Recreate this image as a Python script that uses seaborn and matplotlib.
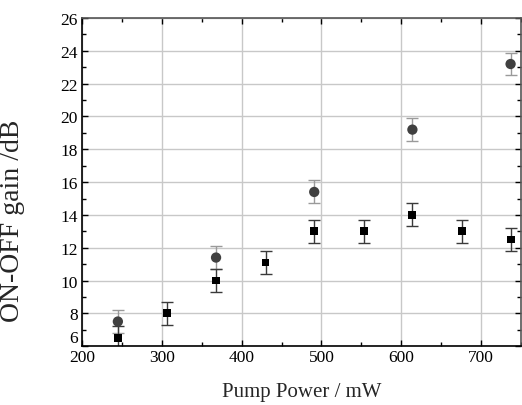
import numpy as np
import pandas as pd
import matplotlib
matplotlib.use("Agg")
import matplotlib.pyplot as plt
import seaborn as sns
from matplotlib.ticker import MultipleLocator

# ---------------------------
# DATA
# ---------------------------
sq_power = [245, 307, 368, 430, 491, 553, 614, 676, 737]
sq_gain = [6.5, 8.0, 10.0, 11.1, 13.0, 13.0, 14.0, 13.0, 12.5]
sq_err = [0.7, 0.7, 0.7, 0.7, 0.7, 0.7, 0.7, 0.7, 0.7]

ci_power = [245, 368, 491, 614, 737]
ci_gain = [7.5, 11.4, 15.4, 19.2, 23.2]
ci_err = [0.7, 0.7, 0.7, 0.7, 0.7]

sq = pd.DataFrame({'power': sq_power, 'gain': sq_gain, 'err': sq_err})
ci = pd.DataFrame({'power': ci_power, 'gain': ci_gain, 'err': ci_err})

# ---------------------------
# STYLE
# ---------------------------
sns.set_style("ticks")
plt.rcParams['font.family'] = ['Liberation Serif', 'DejaVu Serif']

fig = plt.figure(figsize=(5.22, 4.06), dpi=100)
ax = fig.add_axes([0.157, 0.145, 0.841, 0.808])

# error bars first, markers on top
ax.errorbar(ci['power'], ci['gain'], yerr=ci['err'], fmt='none',
            ecolor='#9a9a9a', elinewidth=1, capsize=4, capthick=1, zorder=2)
ax.errorbar(sq['power'], sq['gain'], yerr=sq['err'], fmt='none',
            ecolor='#3a3a3a', elinewidth=1, capsize=4, capthick=1, zorder=2)

sns.scatterplot(data=ci, x='power', y='gain', marker='o', s=55,
                color='#404040', edgecolor='none', ax=ax, zorder=3)
sns.scatterplot(data=sq, x='power', y='gain', marker='s', s=32,
                color='black', edgecolor='none', ax=ax, zorder=4)

ax.set_xlim(200, 750)
ax.set_ylim(6, 26)
ax.xaxis.set_major_locator(MultipleLocator(100))
ax.xaxis.set_minor_locator(MultipleLocator(50))
ax.yaxis.set_major_locator(MultipleLocator(2))
ax.yaxis.set_minor_locator(MultipleLocator(1))

ax.grid(True, which='major', color='#c8c8c8', linewidth=1)
ax.set_axisbelow(True)

ax.tick_params(which='both', direction='in', top=True, right=True,
               labelsize=12.5, colors='black')
ax.tick_params(which='major', length=4, width=1)
ax.tick_params(which='minor', length=3, width=1)
ax.tick_params(axis='y', labelsize=12.5, pad=3)
ax.tick_params(axis='x', pad=2)

for side in ['left', 'bottom']:
    ax.spines[side].set_color('black')
    ax.spines[side].set_linewidth(1.2)
for side in ['top', 'right']:
    ax.spines[side].set_color('#555555')
    ax.spines[side].set_linewidth(1.2)

ax.set_xlabel("Pump Power / mW", fontsize=15, labelpad=12)
ax.set_ylabel("ON-OFF gain /dB", fontsize=20)
ax.yaxis.set_label_coords(-0.13, 0.385)

# bottom y label sits just above the x axis, like the original
fig.canvas.draw()
for lab in ax.get_yticklabels():
    if abs(lab.get_position()[1] - 6) < 1e-6:
        lab.set_verticalalignment('bottom')

fig.savefig("out.png", dpi=100)
